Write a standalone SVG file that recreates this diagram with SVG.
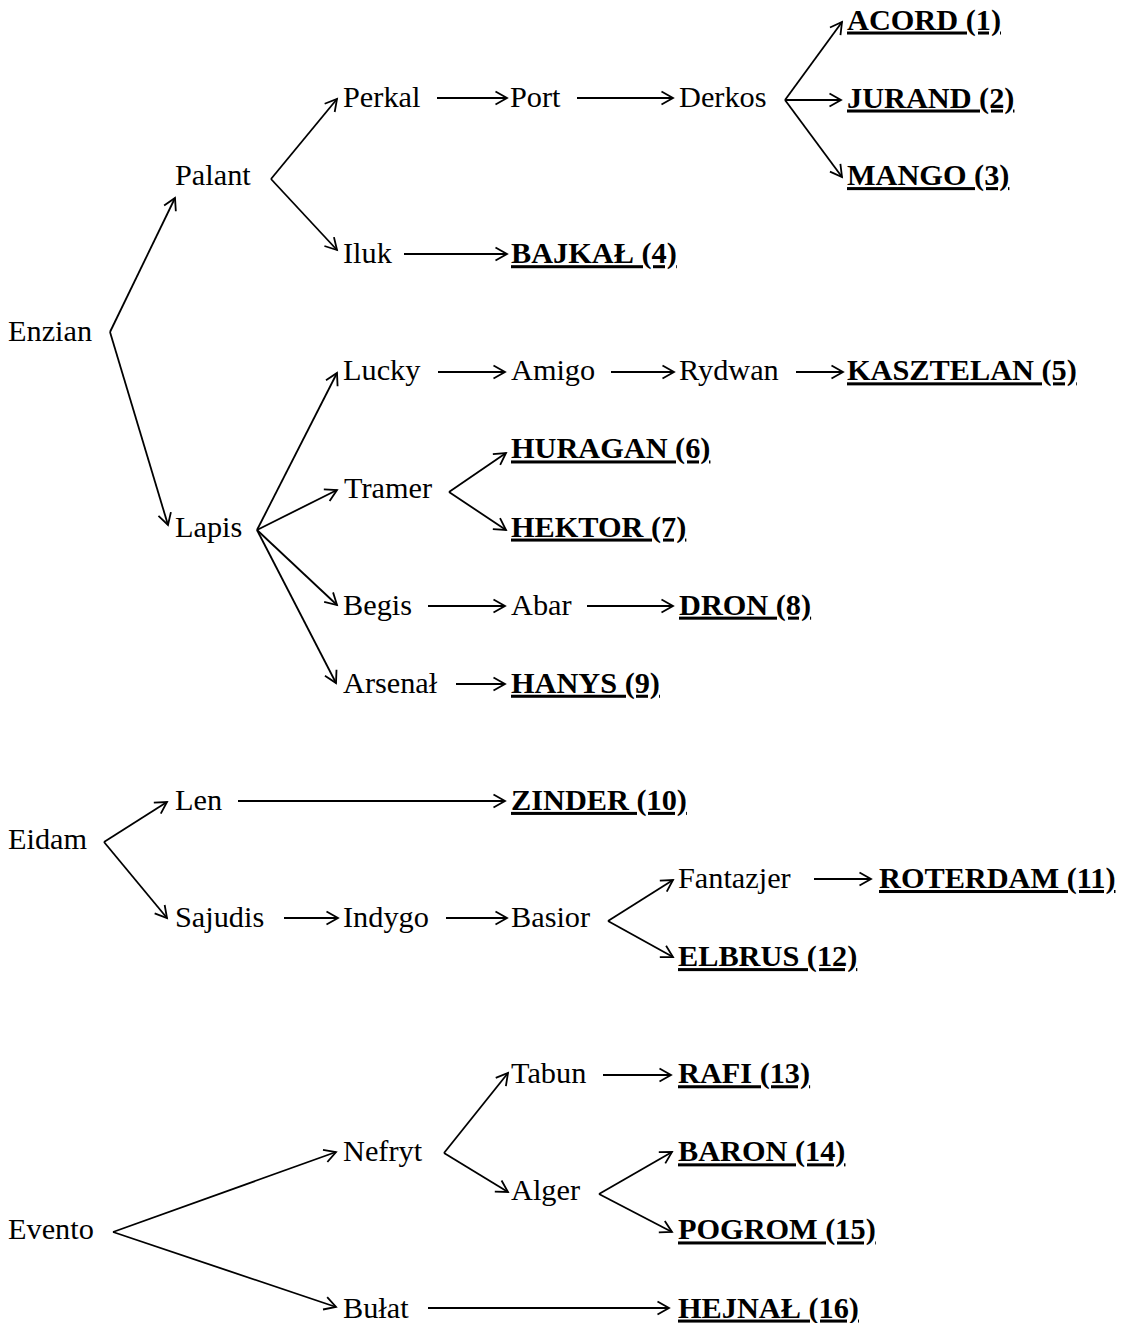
<svg xmlns="http://www.w3.org/2000/svg" width="1129" height="1323" viewBox="0 0 1129 1323">
<style>
  text { font-family: "Liberation Serif", "Times New Roman", serif; font-size: 30.3px; fill: #000; }
  .t { font-weight: bold; text-decoration: underline; text-decoration-skip-ink: none; }
  .c line { stroke: #000; stroke-width: 1.8; fill: none; marker-end: url(#a); }
</style>
<defs>
  <marker id="a" viewBox="0 0 16 16" refX="13" refY="8" markerWidth="16" markerHeight="16" markerUnits="userSpaceOnUse" orient="auto">
    <path d="M1.5,1.5 L13,8 L1.5,14.5" fill="none" stroke="#000" stroke-width="1.8" stroke-linejoin="miter"/>
  </marker>
</defs>
<rect width="1129" height="1323" fill="#fff"/>
<g id="connectors" class="c">
  <line x1="110" y1="332" x2="175" y2="198"/>
  <line x1="110" y1="332" x2="168" y2="525"/>
  <line x1="271" y1="179" x2="337" y2="99"/>
  <line x1="271" y1="179" x2="337" y2="250"/>
  <line x1="437" y1="98" x2="507" y2="98"/>
  <line x1="577" y1="98" x2="673" y2="98"/>
  <line x1="785" y1="100" x2="842" y2="22"/>
  <line x1="785" y1="100" x2="841" y2="100"/>
  <line x1="785" y1="100" x2="842" y2="177"/>
  <line x1="404" y1="254" x2="507" y2="254"/>
  <line x1="257" y1="530" x2="337" y2="373"/>
  <line x1="257" y1="530" x2="337" y2="490"/>
  <line x1="257" y1="530" x2="337" y2="605"/>
  <line x1="257" y1="530" x2="336" y2="683"/>
  <line x1="438" y1="372" x2="505" y2="372"/>
  <line x1="611" y1="372" x2="674" y2="372"/>
  <line x1="796" y1="372" x2="843" y2="372"/>
  <line x1="449" y1="492" x2="506" y2="453"/>
  <line x1="449" y1="492" x2="506" y2="530"/>
  <line x1="428" y1="606" x2="505" y2="606"/>
  <line x1="587" y1="606" x2="673" y2="606"/>
  <line x1="456" y1="684" x2="505" y2="684"/>
  <line x1="104" y1="842" x2="167" y2="802"/>
  <line x1="104" y1="842" x2="167" y2="918"/>
  <line x1="238" y1="801" x2="505" y2="801"/>
  <line x1="284" y1="918" x2="338" y2="918"/>
  <line x1="446" y1="918" x2="507" y2="918"/>
  <line x1="608" y1="921" x2="673" y2="880"/>
  <line x1="608" y1="921" x2="673" y2="957"/>
  <line x1="814" y1="879" x2="871" y2="879"/>
  <line x1="113" y1="1232" x2="336" y2="1152"/>
  <line x1="113" y1="1232" x2="336" y2="1307"/>
  <line x1="444" y1="1153" x2="508" y2="1073"/>
  <line x1="444" y1="1153" x2="508" y2="1192"/>
  <line x1="603" y1="1075" x2="671" y2="1075"/>
  <line x1="599" y1="1194" x2="672" y2="1152"/>
  <line x1="599" y1="1194" x2="672" y2="1232"/>
  <line x1="428" y1="1308" x2="669" y2="1308"/>
</g>
<g id="n-enzian"><text x="8" y="341.3">Enzian</text></g>
<g id="n-palant"><text x="175" y="185.1">Palant</text></g>
<g id="n-perkal"><text x="343" y="107">Perkal</text></g>
<g id="n-port"><text x="510" y="107">Port</text></g>
<g id="n-derkos"><text x="679" y="107">Derkos</text></g>
<g id="n-acord"><text class="t" x="847" y="29.5">ACORD (1)</text></g>
<g id="n-jurand"><text class="t" x="847" y="107.5">JURAND (2)</text></g>
<g id="n-mango"><text class="t" x="847" y="185.1">MANGO (3)</text></g>
<g id="n-iluk"><text x="343" y="263.2">Iluk</text></g>
<g id="n-bajkal"><text class="t" x="511" y="263.2">BAJKAŁ (4)</text></g>
<g id="n-lapis"><text x="175" y="536.55">Lapis</text></g>
<g id="n-lucky"><text x="343" y="380.35">Lucky</text></g>
<g id="n-amigo"><text x="511" y="380.35">Amigo</text></g>
<g id="n-rydwan"><text x="679" y="380.35">Rydwan</text></g>
<g id="n-kasztelan"><text class="t" x="847" y="380.35">KASZTELAN (5)</text></g>
<g id="n-tramer"><text x="344" y="497.5">Tramer</text></g>
<g id="n-huragan"><text class="t" x="511" y="458.45">HURAGAN (6)</text></g>
<g id="n-hektor"><text class="t" x="511" y="536.55">HEKTOR (7)</text></g>
<g id="n-begis"><text x="343" y="614.65">Begis</text></g>
<g id="n-abar"><text x="511" y="614.65">Abar</text></g>
<g id="n-dron"><text class="t" x="679" y="614.65">DRON (8)</text></g>
<g id="n-arsenal"><text x="343" y="692.75">Arsenał</text></g>
<g id="n-hanys"><text class="t" x="511" y="692.75">HANYS (9)</text></g>
<g id="n-eidam"><text x="8" y="848.95">Eidam</text></g>
<g id="n-len"><text x="175" y="809.9">Len</text></g>
<g id="n-zinder"><text class="t" x="511" y="809.9">ZINDER (10)</text></g>
<g id="n-sajudis"><text x="175" y="927.05">Sajudis</text></g>
<g id="n-indygo"><text x="343" y="927.05">Indygo</text></g>
<g id="n-basior"><text x="511" y="927.05">Basior</text></g>
<g id="n-fantazjer"><text x="678" y="888">Fantazjer</text></g>
<g id="n-roterdam"><text class="t" x="879" y="888">ROTERDAM (11)</text></g>
<g id="n-elbrus"><text class="t" x="678" y="966.1">ELBRUS (12)</text></g>
<g id="n-evento"><text x="8" y="1239.45">Evento</text></g>
<g id="n-nefryt"><text x="343" y="1161.35">Nefryt</text></g>
<g id="n-tabun"><text x="511" y="1083.25">Tabun</text></g>
<g id="n-rafi"><text class="t" x="678" y="1083.25">RAFI (13)</text></g>
<g id="n-alger"><text x="511" y="1200.4">Alger</text></g>
<g id="n-baron"><text class="t" x="678" y="1161.35">BARON (14)</text></g>
<g id="n-pogrom"><text class="t" x="678" y="1239.45">POGROM (15)</text></g>
<g id="n-bulat"><text x="343" y="1317.55">Bułat</text></g>
<g id="n-hejnal"><text class="t" x="678" y="1317.55">HEJNAŁ (16)</text></g>
</svg>
